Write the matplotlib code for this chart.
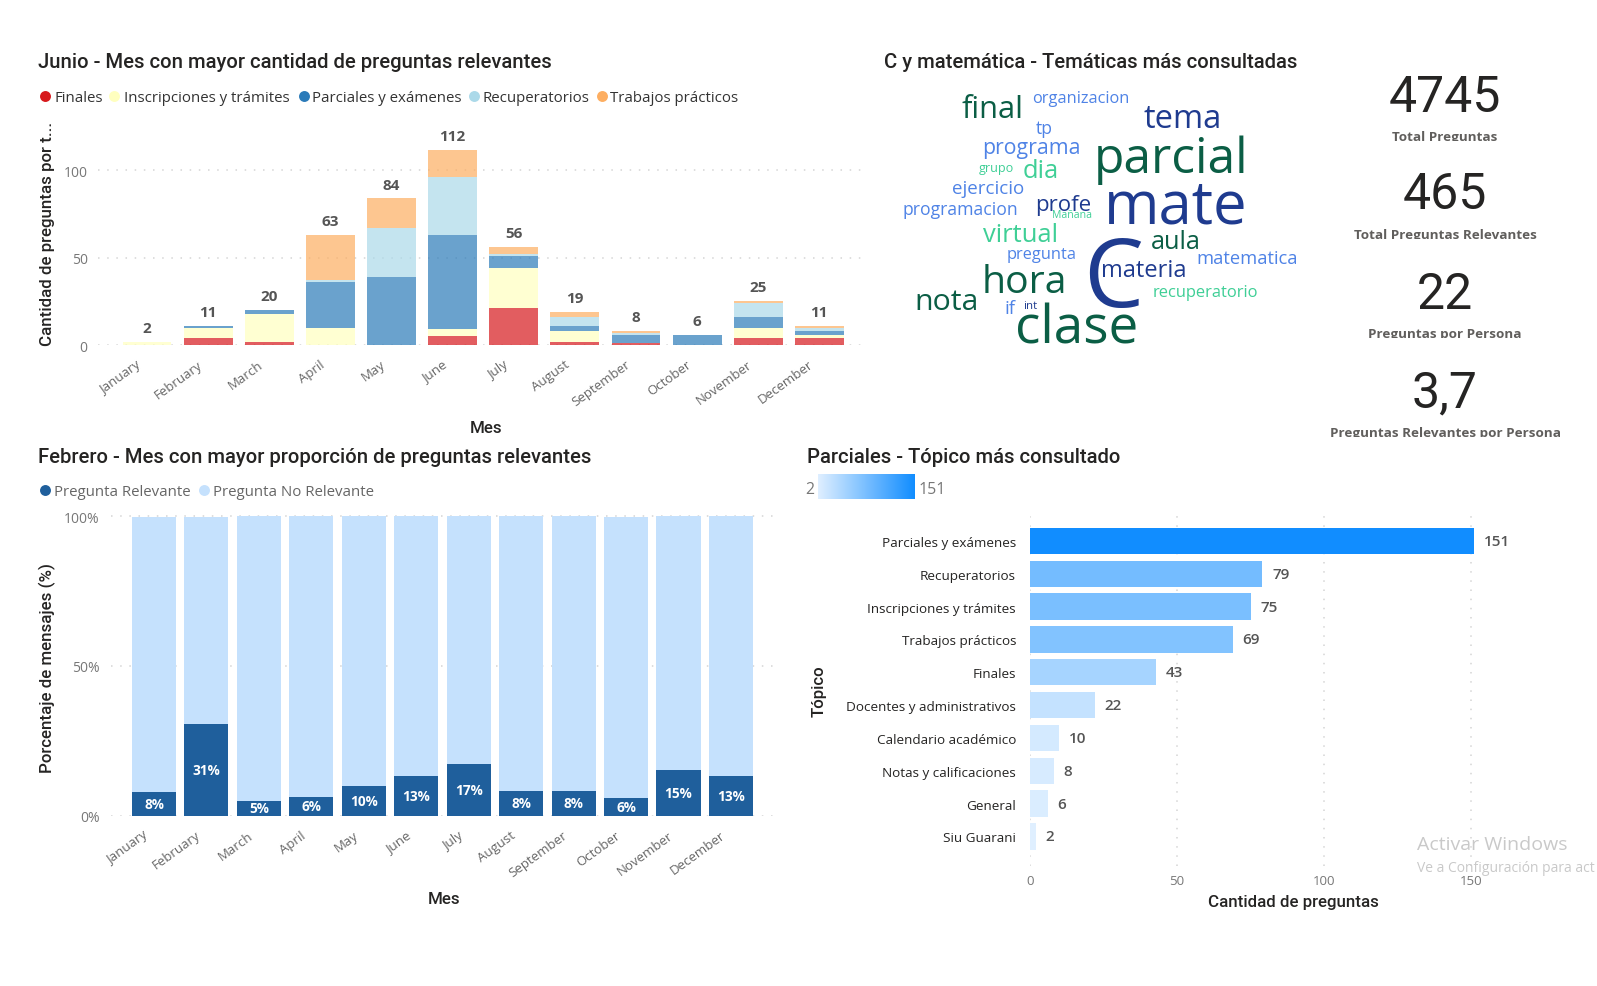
# coding: utf-8
import numpy as np
import matplotlib
matplotlib.use("Agg")
import matplotlib.pyplot as plt
from matplotlib.colors import LinearSegmentedColormap
from matplotlib.transforms import Bbox, ScaledTranslation

W, H = 1597, 987
plt.rcParams['font.family'] = ['Open Sans', 'DejaVu Sans']

months = ['January', 'February', 'March', 'April', 'May', 'June', 'July',
          'August', 'September', 'October', 'November', 'December']

# preguntas relevantes por mes y topico
finales = [0, 4, 2, 0, 0, 5, 21, 2, 1, 0, 4, 4]
inscripciones = [2, 6, 16, 10, 0, 4, 23, 6, 0, 0, 6, 2]
parciales = [0, 1, 2, 26, 39, 54, 7, 3, 5, 6, 6, 2]
recuperatorios = [0, 0, 0, 1, 28, 33, 1, 5, 1, 0, 8, 2]
trabajos = [0, 0, 0, 26, 17, 16, 4, 3, 1, 0, 1, 1]
topic_names = ['Finales', 'Inscripciones y trámites', 'Parciales y exámenes',
               'Recuperatorios', 'Trabajos prácticos']
topic_colors = ['#D7191C', '#FFFFBF', '#2B7BB9', '#ABD9E9', '#FDAE61']

# proporcion de relevantes
relevant_pct = [7.8, 30.6, 5.0, 6.4, 10.0, 13.2, 17.4, 8.2, 8.2, 5.9, 15.4, 13.4]
not_relevant_pct = [91.9, 69.1, 95.0, 93.6, 90.0, 86.8, 82.6, 91.8, 91.8, 93.8, 84.6, 86.6]

# ranking de topicos
ranking_names = ['Parciales y exámenes', 'Recuperatorios', 'Inscripciones y trámites',
                 'Trabajos prácticos', 'Finales', 'Docentes y administrativos',
                 'Calendario académico', 'Notas y calificaciones', 'General', 'Siu Guarani']
ranking_values = [151, 79, 75, 69, 43, 22, 10, 8, 6, 2]

kpi_values = ['4745', '465', '22', '3,7']
kpi_labels = ['Total Preguntas', 'Total Preguntas Relevantes',
              'Preguntas por Persona', 'Preguntas Relevantes por Persona']

DARK_GREEN = '#0B5E45'
NAVY = '#1F3B8F'
BLUE = '#4F83E6'
GREEN = '#3FCF96'
cloud_words = ['final', 'organizacion', 'tema', 'tp', 'parcial', 'programa', 'dia', 'grupo',
               'mate', 'ejercicio', 'profe', 'programacion', 'Mañana', 'virtual', 'aula', 'C',
               'pregunta', 'matematica', 'materia', 'hora', 'recuperatorio', 'nota', 'if',
               'int', 'clase']
cloud_colors = [DARK_GREEN, BLUE, NAVY, BLUE, DARK_GREEN, BLUE, GREEN, GREEN,
                NAVY, BLUE, NAVY, BLUE, GREEN, GREEN, DARK_GREEN, NAVY,
                BLUE, BLUE, NAVY, DARK_GREEN, GREEN, DARK_GREEN, BLUE,
                NAVY, DARK_GREEN]
# left, right and baseline of each word, in pixels of the picture
cloud_left = [962, 1032, 1143, 1036, 1094, 982, 1023, 979, 1104, 952, 1035, 902, 1052, 983,
              1151, 1083, 1007, 1196, 1101, 982, 1153, 914, 1004, 1023, 1015]
cloud_right = [1024, 1129, 1221, 1053, 1249, 1080, 1059, 1014, 1247, 1024, 1091, 1017, 1092, 1058,
               1201, 1143, 1077, 1297, 1186, 1067, 1259, 978, 1015, 1037, 1138]
cloud_base = [118, 103, 128, 134, 173, 154, 178, 172, 223, 194, 211, 215, 218, 242,
              249, 307, 259, 264, 277, 293, 297, 310, 314, 309, 343]


def axes_px(x0, y0, x1, y1):
    return fig.add_axes([x0 / W, 1 - y1 / H, (x1 - x0) / W, (y1 - y0) / H])


def clean(ax):
    for s in ax.spines.values():
        s.set_visible(False)
    ax.tick_params(length=0)
    ax.set_axisbelow(True)


def shift_labels(ax, px):
    # Power BI deja los meses girados un poco a la izquierda de cada barra
    offset = ScaledTranslation(px / 100, 0, fig.dpi_scale_trans)
    for lab in ax.get_xticklabels():
        lab.set_transform(lab.get_transform() + offset)


def legend_row(y, names, colors, marker_x, text_x, color):
    for name, c, mx, tx in zip(names, colors, marker_x, text_x):
        ov.scatter([mx], [y], s=62, color=c, linewidths=0)
        ov.text(tx, y + 1.5, name, fontsize=10.8, color=color, va='center')


fig = plt.figure(figsize=(W / 100, H / 100), dpi=100, facecolor='white')
title_font = dict(family=['Roboto', 'DejaVu Sans'], fontsize=14.6, color='#252423', weight='medium', va='center')
axis_font = dict(family=['Roboto', 'DejaVu Sans'], fontsize=12.2, color='#252423', weight='medium', va='center', ha='center')

# --- Junio: barras apiladas
ax = axes_px(98, 120, 867, 346)
x = np.arange(12)
bottom = np.zeros(12)
for vals, c in zip([finales, inscripciones, parciales, recuperatorios, trabajos], topic_colors):
    ax.bar(x, vals, 0.8, bottom=bottom, color=c, alpha=0.7, linewidth=0)
    bottom += vals
for i, total in enumerate(bottom):
    ax.annotate('%d' % total, (i, total), xytext=(0, 10), textcoords='offset points', ha='center',
                va='center', fontsize=11, weight='bold', color='#555555')
ax.set_xlim(-0.802, 11.78)
ax.set_ylim(0, 129.5)
ax.set_yticks([0, 50, 100])
ax.set_xticks(x, months, rotation=36, ha='right', rotation_mode='anchor')
ax.tick_params(axis='x', labelsize=9.5, labelcolor='#666666', pad=9)
ax.tick_params(axis='y', labelsize=10, labelcolor='#777777', pad=7.5)
ax.grid(axis='y', color='#d5d5d5', linestyle=(0, (1, 5)), linewidth=1.1)
clean(ax)
shift_labels(ax, -11)

# --- Febrero: barras 100%
ax = axes_px(111, 510, 775, 816.7)
bars = ax.bar(x, relevant_pct, 0.84, color='#1F5F9C', linewidth=0)
ax.bar(x, not_relevant_pct, 0.84, bottom=relevant_pct, color='#C5E1FD', linewidth=0)
ax.bar_label(bars, fmt='%.0f%%', label_type='center', color='white', fontsize=9.8, weight='bold')
ax.set_xlim(-0.82, 11.84)
ax.set_ylim(0, 102.4)
ax.set_yticks([0, 50, 100], ['0%', '50%', '100%'])
ax.set_xticks(x, months, rotation=36, ha='right', rotation_mode='anchor')
ax.tick_params(axis='x', labelsize=9.5, labelcolor='#666666', pad=9)
ax.tick_params(axis='y', labelsize=10, labelcolor='#777777', pad=8)
ax.grid(axis='y', color='#d5d5d5', linestyle=(0, (1, 5)), linewidth=1.1)
clean(ax)
shift_labels(ax, -11)

# --- Parciales: ranking horizontal
blues = LinearSegmentedColormap.from_list('rank', ['#DFEFFF', '#118DFF'])
ax = axes_px(1030, 515, 1530, 867)
y = np.arange(len(ranking_names))
shade = [(v - 2) / 149 for v in ranking_values]
ax.barh(y, ranking_values, 0.8, color=blues(shade), linewidth=0)
for i, v in enumerate(ranking_values):
    ax.annotate(str(v), (v, i), xytext=(7, 0), textcoords='offset points', va='center',
                fontsize=11, color='#555555', weight='semibold')
ax.set_xlim(0, 170)
ax.set_ylim(9.9, -0.82)
ax.set_xticks([0, 50, 100, 150])
ax.set_yticks(y, ranking_names)
ax.tick_params(axis='y', labelsize=9.7, labelcolor='#252423', pad=10)
ax.tick_params(axis='x', labelsize=9.5, labelcolor='#777777', pad=6)
ax.grid(axis='x', color='#d5d5d5', linestyle=(0, (1, 5)), linewidth=1.1)
clean(ax)

cbar = axes_px(818, 475, 915, 500)
cbar.imshow(np.linspace(0, 1, 200)[None, :], cmap=blues, aspect='auto')
cbar.axis('off')

# --- capa libre para textos en pixeles
ov = fig.add_axes([0, 0, 1, 1], zorder=5)
ov.set_xlim(0, W)
ov.set_ylim(H, 0)
ov.axis('off')
ov.patch.set_alpha(0)

ov.text(38, 62.5, 'Junio - Mes con mayor cantidad de preguntas relevantes', **title_font)
ov.text(38, 457.5, 'Febrero - Mes con mayor proporción de preguntas relevantes', **title_font)
ov.text(883.5, 62.5, 'C y matemática - Temáticas más consultadas', **title_font)
ov.text(807, 457.5, 'Parciales - Tópico más consultado', **title_font)

legend_row(96.5, topic_names, topic_colors, [44.6, 114, 304, 474, 602], [54, 124, 312, 483, 610], '#333333')
legend_row(491, ['Pregunta Relevante', 'Pregunta No Relevante'], ['#1F5F9C', '#C5E1FD'],
           [45, 204], [54, 213], '#666666')

ov.text(48, 234, 'Cantidad de preguntas por t...', rotation=90, **axis_font)
ov.text(47, 668, 'Porcentaje de mensajes (%)', rotation=90, **axis_font)
ov.text(486, 428.5, 'Mes', **axis_font)
ov.text(444, 900, 'Mes', **axis_font)
ov.text(1293, 902, 'Cantidad de preguntas', **axis_font)
ov.text(819, 691, 'Tópico', rotation=90, **axis_font)

ov.text(810, 490, '2', fontsize=11.4, color='#777777', ha='center', va='center')
ov.text(919, 490, '151', fontsize=11.4, color='#777777', va='center')

# word cloud: size of each word fitted to its width
renderer = fig.canvas.get_renderer()
for word, c, l, r, b in zip(cloud_words, cloud_colors, cloud_left, cloud_right, cloud_base):
    t = ov.text(l, b, word, color=c, fontsize=20, va='baseline')
    ext = t.get_window_extent(renderer)
    t.set_fontsize(20 * (r - l) / ext.width)

# tarjetas
kpi_num_base = [111.7, 209, 309.3, 407.7]
kpi_lab_base = [141, 239, 338.3, 436.7]
for val, lab, ny, ly in zip(kpi_values, kpi_labels, kpi_num_base, kpi_lab_base):
    ov.text(1445, ny, val, family=['Roboto', 'DejaVu Sans'], fontsize=36, color='#252423', ha='center', va='baseline')
    t = ov.text(1445, ly, lab, fontsize=9.7, weight='bold', color='#605E5C', ha='center', va='baseline')
    # las descendentes quedan cortadas en el original
    t.set_clip_on(True)
    t.set_clip_box(Bbox([[1300, H - ly - 1], [1597, H - ly + 20]]))

ov.text(1417, 844.5, 'Activar Windows', fontsize=14, color='#c9c9c9', va='center')
ov.text(1417, 868, 'Ve a Configuración para act', fontsize=10, color='#c9c9c9', va='center')

fig.savefig('out.png', dpi=100)
